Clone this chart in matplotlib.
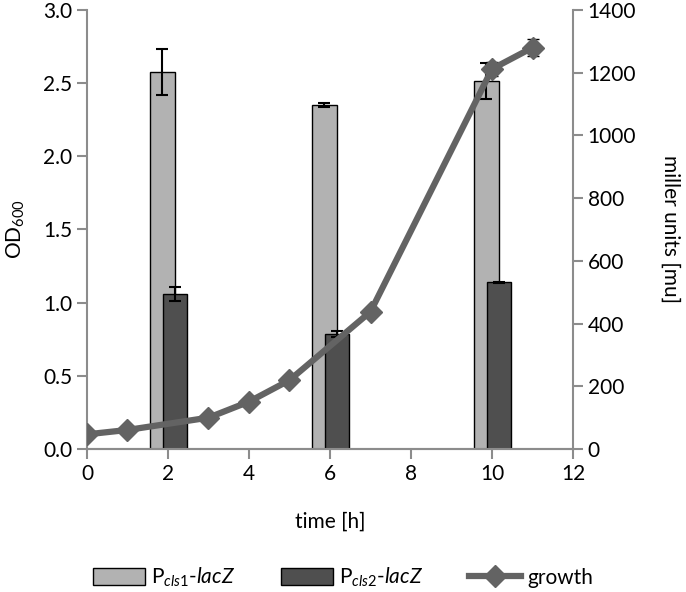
import matplotlib
matplotlib.use("Agg")
import matplotlib.pyplot as plt
from matplotlib.lines import Line2D
import numpy as np

plt.rcParams['font.family'] = ['Lato', 'DejaVu Sans']
plt.rcParams['mathtext.fontset'] = 'custom'
plt.rcParams['mathtext.rm'] = 'Lato'
plt.rcParams['mathtext.it'] = 'Lato:italic'

# Data
bar_times = [2, 6, 10]
cls1_mu = [1203, 1097, 1174]
cls1_err = [74, 6, 58]
cls2_mu = [494, 366, 532]
cls2_err = [21, 10, 2]

growth_t = [0, 1, 3, 4, 5, 7, 10, 11]
growth_od = [0.10, 0.13, 0.214, 0.323, 0.47, 0.938, 2.597, 2.743]
growth_err = [0.0, 0.0, 0.0, 0.0, 0.0, 0.0, 0.05, 0.06]

x_ticks = [0, 2, 4, 6, 8, 10, 12]
od_ticks = [0.0, 0.5, 1.0, 1.5, 2.0, 2.5, 3.0]
mu_ticks = [0, 200, 400, 600, 800, 1000, 1200, 1400]

light = '#b2b2b2'
dark = '#4f4f4f'
linec = '#636363'
spinec = '#8c8c8c'
fs = 15

fig = plt.figure(figsize=(6.86, 5.92), dpi=100)
ax1 = fig.add_axes([0.1268, 0.2416, 0.7085, 0.7415])
ax2 = ax1.twinx()
ax1.set_zorder(ax2.get_zorder() + 1)
ax1.patch.set_visible(False)

bt = np.array(bar_times, dtype=float)
w = 0.61
b1 = ax2.bar(bt - 0.14, cls1_mu, width=w, color=light, edgecolor='black', linewidth=1.0,
             yerr=cls1_err, error_kw=dict(ecolor='black', capsize=4.3, elinewidth=1.5, capthick=1.5),
             zorder=2)
b2 = ax2.bar(bt + 0.17, cls2_mu, width=w, color=dark, edgecolor='black', linewidth=1.0,
             yerr=cls2_err, error_kw=dict(ecolor='black', capsize=4.3, elinewidth=1.5, capthick=1.5),
             zorder=3)

ax1.errorbar(growth_t, growth_od, yerr=growth_err, color=linec, lw=4.5, marker='D', ms=11,
             ecolor='black', capsize=4.3, elinewidth=1.2, zorder=5)

ax1.set_xlim(0, 12)
ax1.set_ylim(0, 3.0)
ax2.set_ylim(0, 1400)
ax1.set_xticks(x_ticks)
ax1.set_xticklabels([str(v) for v in x_ticks])
ax1.set_yticks(od_ticks)
ax1.set_yticklabels([f'{v:.1f}' for v in od_ticks])
ax2.set_yticks(mu_ticks)
ax2.set_yticklabels([str(v) for v in mu_ticks])

for ax in (ax1, ax2):
    for s in ax.spines.values():
        s.set_color(spinec)
        s.set_linewidth(1.5)
    ax.spines['top'].set_visible(False)
    ax.tick_params(axis='both', colors=spinec, labelcolor='black', labelsize=fs,
                   length=7, width=1.5, direction='out')
ax2.spines['left'].set_visible(False)
ax1.spines['right'].set_visible(False)

ax1.set_xlabel('time [h]', fontsize=fs, labelpad=20)
ax1.set_ylabel(r'OD$_{\mathregular{600}}$', fontsize=fs, labelpad=12)
ax2.set_ylabel('miller units [mu]', fontsize=fs, rotation=270, labelpad=32)

growth_handle = Line2D([], [], color=linec, lw=4.5, marker='D', ms=11)
fig.legend([b1, b2, growth_handle],
           [r'P$_{\it{cls1}}$-$\it{lacZ}$', r'P$_{\it{cls2}}$-$\it{lacZ}$', 'growth'],
           loc='center', bbox_to_anchor=(0.5, 0.025), ncol=3,
           frameon=False, fontsize=fs, handlelength=2.5, handleheight=0.9,
           columnspacing=2.2, handletextpad=0.3)

fig.savefig('out.png', dpi=100)
